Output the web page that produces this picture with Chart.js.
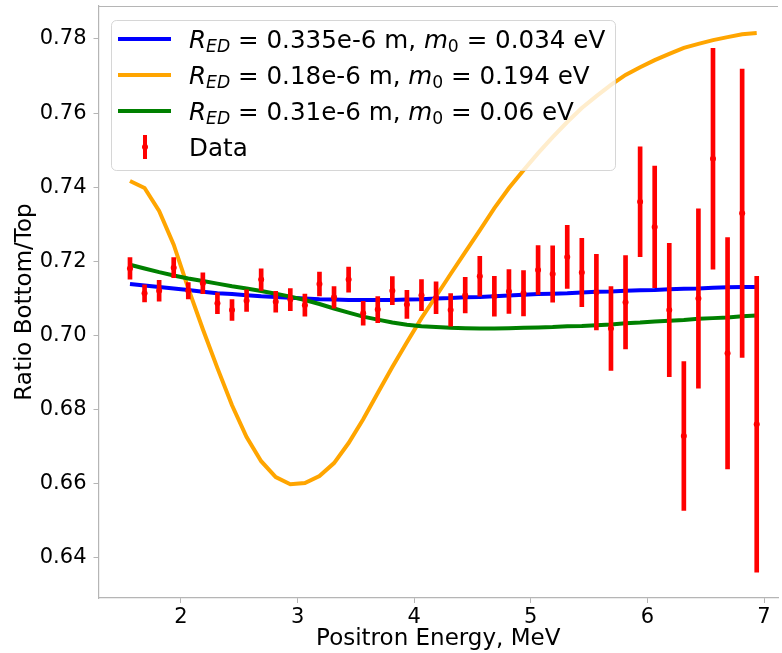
<!DOCTYPE html>
<html>
<head>
<meta charset="utf-8">
<script src="https://cdn.jsdelivr.net/npm/chart.js@4.4.0/dist/chart.umd.min.js"></script>
<style>
  html, body { margin: 0; padding: 0; background: #fff; }
  canvas { display: block; }
</style>
</head>
<body>
<canvas id="ratioChart" width="782" height="653" style="width:782px;height:653px"></canvas>
<script>
// positron energy bins (MeV)
const energies = [1.5625, 1.6875, 1.8125, 1.9375, 2.0625, 2.1875, 2.3125, 2.4375, 2.5625, 2.6875,
                  2.8125, 2.9375, 3.0625, 3.1875, 3.3125, 3.4375, 3.5625, 3.6875, 3.8125, 3.9375,
                  4.0625, 4.1875, 4.3125, 4.4375, 4.5625, 4.6875, 4.8125, 4.9375, 5.0625, 5.1875,
                  5.3125, 5.4375, 5.5625, 5.6875, 5.8125, 5.9375, 6.0625, 6.1875, 6.3125, 6.4375,
                  6.5625, 6.6875, 6.8125, 6.9375];

// measured ratio and its error
const ratioData = [0.7181, 0.7114, 0.7121, 0.7183, 0.7121, 0.7141, 0.7087, 0.7069, 0.7094, 0.7151,
                   0.7091, 0.7097, 0.7082, 0.7139, 0.7103, 0.7151, 0.7060, 0.7070, 0.7121, 0.7084,
                   0.7109, 0.7102, 0.7069, 0.7109, 0.7160, 0.7106, 0.7119, 0.7114, 0.7177, 0.7166,
                   0.7212, 0.7170, 0.7117, 0.7019, 0.7090, 0.7361, 0.7293, 0.7069, 0.6729, 0.7100,
                   0.7477, 0.6952, 0.7330, 0.6761];
const ratioErr = [0.0029, 0.0023, 0.0028, 0.0027, 0.0022, 0.0028, 0.0028, 0.0028, 0.0029, 0.0029,
                  0.0028, 0.0030, 0.0030, 0.0032, 0.0029, 0.0034, 0.0032, 0.0035, 0.0038, 0.0038,
                  0.0042, 0.0043, 0.0044, 0.0048, 0.0054, 0.0054, 0.0059, 0.0061, 0.0066, 0.0076,
                  0.0085, 0.0092, 0.0102, 0.0113, 0.0126, 0.0148, 0.0164, 0.0180, 0.0201, 0.0242,
                  0.0298, 0.0312, 0.0389, 0.0399];

// model curves
const modelBlue = [0.7139, 0.7135, 0.7131, 0.7127, 0.7123, 0.7118, 0.7114, 0.7112, 0.7109, 0.7106,
                   0.7104, 0.7102, 0.7100, 0.7098, 0.7097, 0.7096, 0.7096, 0.7096, 0.7096, 0.7097,
                   0.7098, 0.7100, 0.7101, 0.7103, 0.7104, 0.7106, 0.7108, 0.7110, 0.7112, 0.7113,
                   0.7114, 0.7116, 0.7118, 0.7119, 0.7121, 0.7122, 0.7123, 0.7125, 0.7126, 0.7127,
                   0.7129, 0.7130, 0.7131, 0.7131];
const modelOrange = [0.7417, 0.7398, 0.7336, 0.7245, 0.7127, 0.7017, 0.6912, 0.6812, 0.6726, 0.6661,
                     0.6618, 0.6599, 0.6602, 0.6621, 0.6656, 0.6710, 0.6774, 0.6845, 0.6915, 0.6982,
                     0.7047, 0.7106, 0.7166, 0.7225, 0.7284, 0.7344, 0.7398, 0.7446, 0.7492, 0.7535,
                     0.7576, 0.7614, 0.7646, 0.7676, 0.7703, 0.7724, 0.7743, 0.7760, 0.7776, 0.7787,
                     0.7797, 0.7805, 0.7813, 0.7816];
const modelGreen = [0.7191, 0.7181, 0.7171, 0.7162, 0.7154, 0.7147, 0.7140, 0.7133, 0.7127, 0.7120,
                    0.7113, 0.7105, 0.7096, 0.7085, 0.7073, 0.7062, 0.7051, 0.7043, 0.7035, 0.7029,
                    0.7025, 0.7023, 0.7021, 0.7020, 0.7019, 0.7019, 0.7020, 0.7021, 0.7022, 0.7023,
                    0.7025, 0.7026, 0.7028, 0.7030, 0.7033, 0.7035, 0.7038, 0.7040, 0.7042, 0.7045,
                    0.7047, 0.7049, 0.7052, 0.7054];

const xTicks = [2, 3, 4, 5, 6, 7];
const yTicks = [0.64, 0.66, 0.68, 0.70, 0.72, 0.74, 0.76, 0.78];

// legend text, split into mathtext-like pieces
const legendBlue = [['R', 'i'], ['ED', 'is'], [' = 0.335e-6 m, ', ''], ['m', 'i'], ['0', 's'], [' = 0.034 eV', '']];
const legendOrange = [['R', 'i'], ['ED', 'is'], [' = 0.18e-6 m, ', ''], ['m', 'i'], ['0', 's'], [' = 0.194 eV', '']];
const legendGreen = [['R', 'i'], ['ED', 'is'], [' = 0.31e-6 m, ', ''], ['m', 'i'], ['0', 's'], [' = 0.06 eV', '']];
const legendData = [['Data', '']];

const axisColor = '#b5b5b5';
const FONT = '"DejaVu Sans", sans-serif';

const toPoints = (vals) => energies.map((x, i) => ({ x: x, y: vals[i] }));

const drawRich = (ctx, parts, x, y, size) => {
    parts.forEach(([text, style]) => {
        const sub = style.includes('s');
        const s = sub ? size * 0.7 : size;
        ctx.font = (style.includes('i') ? 'italic ' : '') + s + 'px ' + FONT;
        ctx.fillText(text, x, y + (sub ? size * 0.18 : 0));
        x += ctx.measureText(text).width;
    });
};

const framePlugin = {
    id: 'frame',
    afterDatasetsDraw(chart) {
        const { ctx, chartArea: a } = chart;
        ctx.save();
        // top spine
        ctx.strokeStyle = axisColor;
        ctx.lineWidth = 1.2;
        ctx.beginPath();
        ctx.moveTo(a.left, a.top + 0.5);
        ctx.lineTo(a.right, a.top + 0.5);
        ctx.stroke();

        // legend box
        const bx = 111, by = 20, bw = 504, bh = 150;
        ctx.beginPath();
        if (ctx.roundRect) ctx.roundRect(bx + 0.5, by + 0.5, bw, bh, 5);
        else ctx.rect(bx + 0.5, by + 0.5, bw, bh);
        ctx.fillStyle = 'rgba(255,255,255,0.8)';
        ctx.fill();
        ctx.strokeStyle = 'rgba(204,204,204,0.8)';
        ctx.lineWidth = 1;
        ctx.stroke();

        const rows = [39, 75, 111, 147];
        const handles = ['#0000ff', '#ffa500', '#008000'];
        ctx.lineWidth = 4;
        handles.forEach((c, i) => {
            ctx.strokeStyle = c;
            ctx.beginPath();
            ctx.moveTo(118, rows[i]);
            ctx.lineTo(171, rows[i]);
            ctx.stroke();
        });
        // data handle
        ctx.strokeStyle = '#ff0000';
        ctx.beginPath();
        ctx.moveTo(145, rows[3] - 12);
        ctx.lineTo(145, rows[3] + 12);
        ctx.stroke();
        ctx.fillStyle = '#ff0000';
        ctx.beginPath();
        ctx.arc(145, rows[3], 3, 0, Math.PI * 2);
        ctx.fill();

        ctx.fillStyle = '#000';
        ctx.textBaseline = 'alphabetic';
        ctx.textAlign = 'left';
        [legendBlue, legendOrange, legendGreen, legendData].forEach((parts, i) => {
            drawRich(ctx, parts, 189, rows[i] + 8.5, 24.6);
        });
        ctx.restore();
    }
};

const ctx = document.getElementById('ratioChart').getContext('2d');

new Chart(ctx, {
    type: 'line',
    data: {
        datasets: [
            {
                type: 'scatter',
                label: 'Data',
                data: toPoints(ratioData),
                showLine: false,
                pointRadius: 3,
                pointBackgroundColor: '#ff0000',
                pointBorderWidth: 0,
                order: 0
            },
            {
                type: 'bar',
                label: 'Data error',
                data: energies.map((x, i) => ({ x: x, y: [ratioData[i] - ratioErr[i], ratioData[i] + ratioErr[i]] })),
                backgroundColor: '#ff0000',
                borderWidth: 0,
                barThickness: 4,
                order: 1
            },
            {
                label: 'green',
                data: toPoints(modelGreen),
                borderColor: '#008000',
                borderWidth: 4,
                pointRadius: 0,
                tension: 0,
                fill: false,
                order: 2
            },
            {
                label: 'orange',
                data: toPoints(modelOrange),
                borderColor: '#ffa500',
                borderWidth: 4,
                pointRadius: 0,
                tension: 0,
                fill: false,
                order: 3
            },
            {
                label: 'blue',
                data: toPoints(modelBlue),
                borderColor: '#0000ff',
                borderWidth: 4,
                pointRadius: 0,
                tension: 0,
                fill: false,
                order: 4
            }
        ]
    },
    options: {
        responsive: false,
        animation: false,
        devicePixelRatio: 1,
        layout: { padding: { top: 6, right: 4, left: 0, bottom: 0 } },
        plugins: {
            legend: { display: false },
            tooltip: { enabled: false }
        },
        scales: {
            x: {
                type: 'linear',
                min: 1.2925,
                max: 7.12,
                offset: false,
                afterFit: (scale) => {
                    scale.height = 55;
                    scale.paddingLeft = 0;
                    scale.paddingRight = 0;
                },
                afterBuildTicks: (scale) => { scale.ticks = xTicks.map(v => ({ value: v })); },
                grid: { display: true, drawOnChartArea: false, drawTicks: true, tickLength: 5, color: axisColor, offset: false },
                border: { display: true, color: axisColor, width: 1.2 },
                ticks: {
                    color: '#000',
                    padding: 2,
                    font: { family: FONT, size: 21 },
                    callback: (v) => String(v)
                },
                title: {
                    display: true,
                    text: 'Positron Energy, MeV',
                    color: '#000',
                    font: { family: FONT, size: 23 },
                    padding: { top: 0, bottom: 0 }
                }
            },
            y: {
                min: 0.6292,
                max: 0.7889,
                afterFit: (scale) => {
                    scale.width = 98.5;
                    scale.paddingTop = 0;
                    scale.paddingBottom = 0;
                },
                afterBuildTicks: (scale) => { scale.ticks = yTicks.map(v => ({ value: v })); },
                grid: { display: true, drawOnChartArea: false, drawTicks: true, tickLength: 5, color: axisColor },
                border: { display: true, color: axisColor, width: 1.2 },
                ticks: {
                    color: '#000',
                    padding: 7,
                    font: { family: FONT, size: 21 },
                    callback: (v) => Number(v).toFixed(2)
                },
                title: {
                    display: true,
                    text: 'Ratio Bottom/Top',
                    color: '#000',
                    font: { family: FONT, size: 23 },
                    padding: { top: 11, bottom: 0 }
                }
            }
        }
    },
    plugins: [framePlugin]
});
</script>
</body>
</html>
